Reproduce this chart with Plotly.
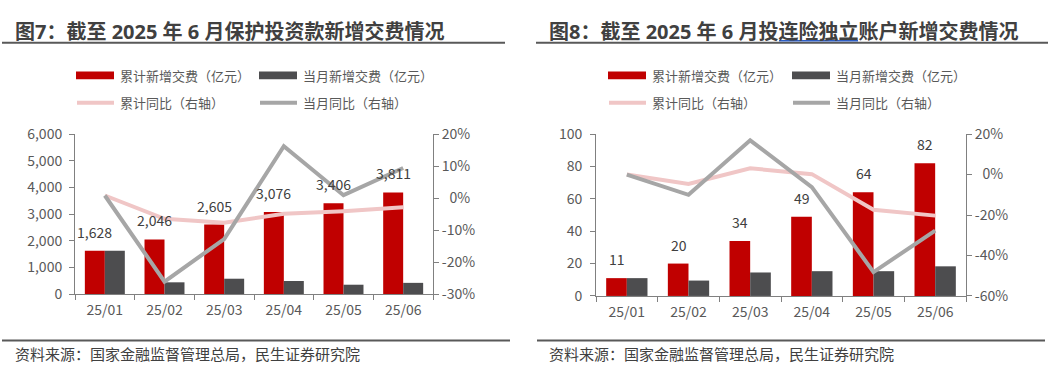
import plotly.graph_objects as go

# ---------------- data ----------------
months = ["25/01", "25/02", "25/03", "25/04", "25/05", "25/06"]

# 图7 保护投资款
p_cum = [1628, 2046, 2605, 3076, 3406, 3811]
p_mon = [1628, 440, 575, 490, 350, 420]
p_cum_yoy = [0.8, -6.5, -7.7, -4.9, -4.1, -2.9]
p_mon_yoy = [0.8, -26.1, -12.8, 16.2, 0.9, 9.4]

# 图8 投连险独立账户
u_cum = [11, 20, 34, 49, 64, 82]
u_mon = [11, 9.5, 14.5, 15.3, 15.3, 18.3]
u_cum_yoy = [0.0, -4.7, 3.1, 0.2, -17.4, -20.3]
u_mon_yoy = [0.0, -10.0, 16.9, -6.2, -48.2, -27.7]

# right-axis tick values (%)
p_pct_ticks = [20, 10, 0, -10, -20, -30]
u_pct_ticks = [20, 0, -20, -40, -60]

series_names = ["累计新增交费（亿元）", "当月新增交费（亿元）", "累计同比（右轴）", "当月同比（右轴）"]
titles = ["图7：截至 2025 年 6 月保护投资款新增交费情况",
          "图8：截至 2025 年 6 月投连险独立账户新增交费情况"]
source = "资料来源：国家金融监督管理总局，民生证券研究院"

# ---------------- style ----------------
W, H = 1048, 375
FONT = "Noto Sans CJK SC, Noto Sans, sans-serif"
TFONT = "Noto Sans, Noto Sans CJK SC, sans-serif"
RED = "#C00000"
DARK = "#4D4D4F"
PINK = "#F0C6C6"
GRAY = "#A6A6A6"
TXT = "#595959"
AXC = "#808080"


def px(x):
    return x / W


def py(y):
    return 1 - y / H


def pct_text(v):
    # Excel-like right alignment: pad single-digit labels with a figure space
    s = f"{v}%"
    return ("\u2007" + s) if v == 0 else s


fig = go.Figure()

charts = [
    dict(xa="x", ya="y", ya2="y2", cum=p_cum, mon=p_mon, cy=p_cum_yoy, my=p_mon_yoy,
         labels=[f"{v:,}" for v in p_cum]),
    dict(xa="x2", ya="y3", ya2="y4", cum=u_cum, mon=u_mon, cy=u_cum_yoy, my=u_mon_yoy,
         labels=[f"{v:,}" for v in u_cum]),
]

annotations = []
for c in charts:
    fig.add_trace(go.Bar(x=months, y=c["cum"], name=series_names[0], marker_color=RED,
                         marker_line_width=0, xaxis=c["xa"], yaxis=c["ya"], showlegend=False))
    fig.add_trace(go.Bar(x=months, y=c["mon"], name=series_names[1], marker_color=DARK,
                         marker_line_width=0, xaxis=c["xa"], yaxis=c["ya"], showlegend=False))
    fig.add_trace(go.Scatter(x=months, y=c["cy"], name=series_names[2], mode="lines",
                             line=dict(color=PINK, width=4), xaxis=c["xa"], yaxis=c["ya2"],
                             showlegend=False))
    fig.add_trace(go.Scatter(x=months, y=c["my"], name=series_names[3], mode="lines",
                             line=dict(color=GRAY, width=4), xaxis=c["xa"], yaxis=c["ya2"],
                             showlegend=False))
    for m, v, t in zip(months, c["cum"], c["labels"]):
        annotations.append(dict(x=m, y=v, xref=c["xa"], yref=c["ya"], text=t, showarrow=False,
                                xshift=-10, yshift=19, yanchor="middle",
                                font=dict(family=FONT, size=14, color="#404040")))

axis_common = dict(showline=True, linecolor=AXC, linewidth=1, ticks="outside", ticklen=5,
                   tickcolor=AXC, showgrid=False, zeroline=False,
                   tickfont=dict(family=FONT, size=14, color=TXT))

fig.update_layout(
    xaxis=dict(domain=[px(75), px(433)], anchor="y", type="category", tickson="boundaries",
               ticklabelstandoff=3, **axis_common),
    yaxis=dict(domain=[py(299), py(130)], anchor="x", range=[0, 6000], dtick=1000,
               tickformat=",", ticklabelstandoff=4, **axis_common),
    yaxis2=dict(overlaying="y", side="right", anchor="x", range=[-30, 20],
                tickvals=p_pct_ticks, ticktext=[pct_text(v) for v in p_pct_ticks], **axis_common),
    xaxis2=dict(domain=[px(596), px(966)], anchor="y3", type="category", tickson="boundaries",
                ticklabelstandoff=3, **axis_common),
    yaxis3=dict(domain=[py(301), py(130)], anchor="x2", range=[0, 100], dtick=20,
                ticklabelstandoff=5, **axis_common),
    yaxis4=dict(overlaying="y3", side="right", anchor="x2", range=[-60, 20],
                tickvals=u_pct_ticks, ticktext=[pct_text(v) for v in u_pct_ticks], **axis_common),
)

shapes = []

# titles, underlines, footers
for i, (tx, lx0, lx1, fx0, fx1, fsx) in enumerate([
        (13, 2, 505, 2, 510, 13),
        (547, 536, 1048, 537, 1045, 547)]):
    annotations.append(dict(x=px(tx), y=py(22), xref="paper", yref="paper", text=f"<b>{titles[i]}</b>",
                            showarrow=False, xanchor="left", yanchor="middle",
                            font=dict(family=TFONT, size=20, color="#404040")))
    shapes.append(dict(type="line", xref="paper", yref="paper", x0=px(lx0), x1=px(lx1),
                       y0=py(33.5), y1=py(33.5), line=dict(color="#595959", width=2)))
    shapes.append(dict(type="line", xref="paper", yref="paper", x0=px(fx0), x1=px(fx1),
                       y0=py(348), y1=py(348), line=dict(color="#595959", width=2)))
    annotations.append(dict(x=px(fsx), y=py(362), xref="paper", yref="paper", text=source,
                            showarrow=False, xanchor="left", yanchor="middle",
                            font=dict(family=FONT, size=15, color="#404040")))

# blue hyperlink underline in second title
shapes.append(dict(type="line", xref="paper", yref="paper", x0=px(779), x1=px(858),
                   y0=py(31.5), y1=py(31.5), line=dict(color="#2F5FC4", width=1.5)))

# legends (manual)
for (sx1, sx2) in [(76, 259), (608, 792)]:
    items = [(sx1, 68, series_names[0], RED, "rect"),
             (sx2, 68, series_names[1], DARK, "rect"),
             (sx1, 97, series_names[2], PINK, "line"),
             (sx2, 97, series_names[3], GRAY, "line")]
    for x0, yc, name, col, kind in items:
        if kind == "rect":
            shapes.append(dict(type="rect", xref="paper", yref="paper", x0=px(x0), x1=px(x0 + 38),
                               y0=py(yc + 4), y1=py(yc - 4), fillcolor=col, line=dict(width=0)))
        else:
            shapes.append(dict(type="line", xref="paper", yref="paper", x0=px(x0 + 1), x1=px(x0 + 38),
                               y0=py(yc), y1=py(yc), line=dict(color=col, width=4)))
        annotations.append(dict(x=px(x0 + 42), y=py(yc), xref="paper", yref="paper", text=name,
                                showarrow=False, xanchor="left", yanchor="middle",
                                font=dict(family=FONT, size=13, color=TXT)))

fig.update_layout(
    width=W, height=H, margin=dict(l=0, r=0, t=0, b=0),
    paper_bgcolor="white", plot_bgcolor="white",
    barmode="group", bargap=0.33, bargroupgap=0,
    showlegend=False, annotations=annotations, shapes=shapes,
    font=dict(family=FONT, color=TXT),
)

fig.write_html("out.html", config={"displayModeBar": False},
               post_script="document.body.style.margin='0px';")
